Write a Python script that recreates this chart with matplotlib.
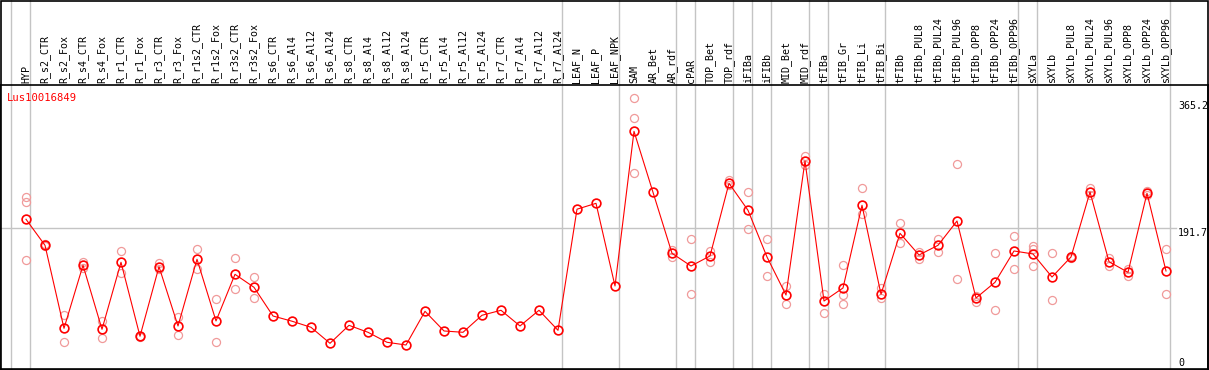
import matplotlib
matplotlib.use("Agg")
import matplotlib.pyplot as plt
from matplotlib.patches import Rectangle
from matplotlib.transforms import blended_transform_factory, offset_copy

# sample names, left to right
samples = ["HYP", "R_s2_CTR", "R_s2_Fox", "R_s4_CTR", "R_s4_Fox", "R_r1_CTR", "R_r1_Fox",
           "R_r3_CTR", "R_r3_Fox", "R_r1s2_CTR", "R_r1s2_Fox", "R_r3s2_CTR", "R_r3s2_Fox",
           "R_s6_CTR", "R_s6_Al4", "R_s6_Al12", "R_s6_Al24", "R_s8_CTR", "R_s8_Al4",
           "R_s8_Al12", "R_s8_Al24", "R_r5_CTR", "R_r5_Al4", "R_r5_Al12", "R_r5_Al24",
           "R_r7_CTR", "R_r7_Al4", "R_r7_Al12", "R_r7_Al24", "LEAF_N", "LEAF_P", "LEAF_NPK",
           "SAM", "AR_Bet", "AR_rdf", "cPAR", "TOP_Bet", "TOP_rdf", "iFIBa", "iFIBb",
           "MID_Bet", "MID_rdf", "tFIBa", "tFIB_Gr", "tFIB_Li", "tFIB_Bi", "tFIBb",
           "tFIBb_PUL8", "tFIBb_PUL24", "tFIBb_PUL96", "tFIBb_OPP8", "tFIBb_OPP24",
           "tFIBb_OPP96", "sXYLa", "sXYLb", "sXYLb_PUL8", "sXYLb_PUL24", "sXYLb_PUL96",
           "sXYLb_OPP8", "sXYLb_OPP24", "sXYLb_OPP96"]

# mean expression per sample
means = [204.0, 168.5, 55.4, 141.3, 54.1, 145.4, 44.6, 139.4, 58.6, 149.5, 65.4, 129.0, 111.3,
         72.2, 65.1, 56.8, 35.0, 59.5, 50.0, 36.4, 32.7, 78.6, 51.8, 50.0, 73.2,
         80.0, 58.6, 80.0, 52.7, 217.7, 225.7, 113.1,
         323.8, 240.7, 157.6, 140.3, 154.0, 253.0, 216.2, 152.6,
         100.8, 283.4, 92.6, 110.4, 223.0, 101.8, 184.9,
         155.3, 168.5, 201.6, 96.7, 118.1,
         160.8, 156.7, 125.3, 152.6, 241.1, 146.2,
         131.7, 239.4, 133.5]

# replicate values (empty when only one value)
reps = [[234.7, 227.1, 148.5], [170.3, 166.9], [73.6, 37.2], [146.2, 137.2], [65.8, 41.8],
        [160.8, 130.4], [45.6, 43.6], [144.8, 135.8], [71.3, 46.3], [163.1, 135.8],
        [95.0, 36.4], [150.8, 108.6], [125.7, 96.3],
        [], [], [], [], [], [], [], [], [], [], [], [], [], [], [], [],
        [], [], [],
        [368.8, 341.6, 266.6], [], [162.1, 153.0], [177.1, 101.8], [161.2, 146.2],
        [257.5, 250.7], [240.7, 190.7], [177.1, 126.7],
        [113.1, 88.6], [290.2, 278.0], [101.8, 75.9], [141.3, 100.4, 88.6],
        [246.2, 211.2], [109.9, 96.3], [198.5, 171.3],
        [159.8, 149.5], [177.1, 159.8], [279.3, 122.6], [91.7, 99.5], [157.6, 80.4],
        [181.6, 136.6], [167.6, 163.1, 140.3], [157.6, 93.6], [154.0, 151.0],
        [246.2, 237.1], [150.8, 140.7], [136.2, 126.7], [242.5, 236.4], [163.1, 101.8]]

# last sample of each group (a separator is drawn after it)
group_ends = [-1, 0, 28, 31, 34, 35, 37, 38, 39, 41, 42, 45, 52, 53, 60]

gene = "Lus10016849"
ymax = 386.9
grid_value = 191.7
top_label = 365.2

W, H = 1209, 370
fig = plt.figure(figsize=(W / 100, H / 100), dpi=100)
ax = fig.add_axes([0, 1 / H, 1208 / W, 284 / H])

mono = "DejaVu Sans Mono"
red = "#ff0000"
pink = "#f09a9a"
grey = "#c4c4c4"

x = list(range(len(samples)))
ax.set_xlim(-26 / 19, (1208 - 26) / 19)
ax.set_ylim(0, ymax)

# group separators run through the header too
for g in group_ends:
    ax.axvline(g + 4 / 19, ymin=0, ymax=369 / 284, color=grey, lw=1, clip_on=False, zorder=1)

ax.plot([-2, 60 + 10 / 19], [grid_value, grid_value], color=grey, lw=1, zorder=1)

for i, r in enumerate(reps):
    if r:
        ax.plot([i] * len(r), r, "o", ms=5.8, mfc="none", mec=pink, mew=0.9, zorder=2)

ax.plot(x, means, "-", color=red, lw=0.8, zorder=3)
ax.plot(x, means, "o", ms=6.3, mfc="none", mec=red, mew=1.2, zorder=4)

trans = blended_transform_factory(ax.transData, ax.transAxes)
for i, name in enumerate(samples):
    ax.text(i, 1.0, name, rotation=90, ha="center", va="bottom", family=mono, fontsize=7.2,
            transform=offset_copy(trans, fig=fig, y=1.5, units="points"), clip_on=False)

# gene id in the top left corner of the plot
ax.text(7 / 1208, ymax - 18, gene, color=red, family=mono, fontsize=7.6, ha="left", va="center",
        transform=blended_transform_factory(ax.transAxes, ax.transData))

xr = (1178 - 26) / 19
ax.text(xr, top_label, f"{top_label}", family=mono, fontsize=7.2, ha="left", va="top")
ax.text(xr, grid_value, f"{grid_value}", family=mono, fontsize=7.2, ha="left", va="top")
ax.text(xr, 1.5, "0", family=mono, fontsize=7.2, ha="left", va="bottom")

ax.set_xticks([])
ax.set_yticks([])
for s in ax.spines.values():
    s.set_linewidth(1.2)
    s.set_color("black")

fig.patches.append(Rectangle((0.5 / W, 0.5 / H), 1207.5 / W, 1 - 1 / H, transform=fig.transFigure,
                             fill=False, edgecolor="black", lw=1.2))

fig.savefig("out.png", dpi=100)
